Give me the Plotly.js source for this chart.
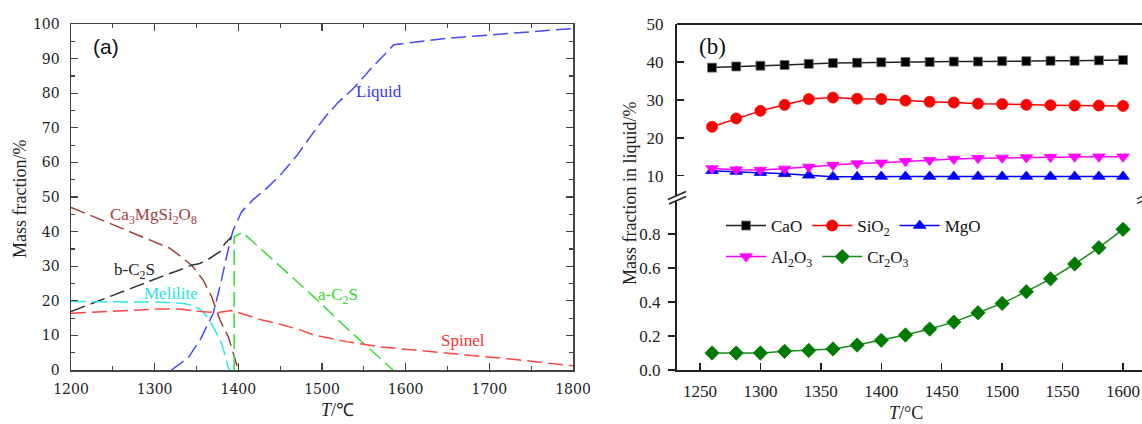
<!DOCTYPE html>
<html>
<head>
<meta charset="utf-8">
<script src="https://cdn.plot.ly/plotly-3.0.1.min.js"></script>
<style>
html,body{margin:0;padding:0;background:#fff;overflow:hidden;}
#chart{width:1142px;height:424px;}
</style>
</head>
<body>
<div id="chart"></div>
<script>
// ---------- Panel (a): phase mass fractions vs temperature ----------
const liquidT = [1320, 1340, 1355, 1370, 1378, 1384, 1390, 1394, 1404, 1418, 1436, 1450, 1470, 1489, 1505, 1520, 1536, 1560, 1586, 1650, 1720, 1800];
const liquidY = [0, 3.5, 9, 16.4, 24.1, 30.8, 37.1, 40.5, 45.8, 49.3, 53.0, 56.3, 62, 68.4, 73.5, 77.5, 81, 87.5, 94, 95.9, 97.3, 98.7];

const cmsT = [1200, 1235, 1265, 1294, 1318, 1334, 1344, 1358, 1368, 1378, 1388, 1394, 1400];
const cmsY = [47, 43.4, 40.5, 37.6, 35.2, 32.3, 30.3, 26, 21.2, 14.5, 9.6, 4.8, 0];

const bc2sT = [1200, 1235, 1282, 1318, 1330, 1344, 1354, 1366, 1378, 1384, 1392];
const bc2sY = [16.9, 20.2, 24.6, 27.9, 28.9, 30.3, 30.8, 32.3, 34.2, 36.6, 38.5];

const meliliteT = [1200, 1260, 1310, 1335, 1348, 1358, 1370, 1380, 1386, 1389];
const meliliteY = [19.8, 19.8, 19.6, 19.2, 18.5, 16.9, 12.5, 7.7, 2.9, 0];

const ac2sT = [1395, 1395, 1405, 1450, 1490, 1529, 1585];
const ac2sY = [0, 38.5, 39.8, 29.9, 21.2, 12.2, 0];

const spinelT = [1200, 1250, 1300, 1330, 1358, 1375, 1392, 1400, 1426, 1450, 1474, 1490, 1529, 1569, 1609, 1669, 1728, 1800];
const spinelY = [16.4, 17.0, 17.6, 17.6, 16.8, 16.6, 17.2, 16.6, 14.6, 13.2, 11.6, 10.1, 8.2, 6.7, 5.8, 4.6, 3.1, 1.2];

// ---------- Panel (b): liquid composition ----------
const tempB = [1260, 1280, 1300, 1320, 1340, 1360, 1380, 1400, 1420, 1440, 1460, 1480, 1500, 1520, 1540, 1560, 1580, 1600];
const caoY   = [38.5, 38.8, 39.0, 39.2, 39.5, 39.7, 39.8, 39.9, 40.0, 40.0, 40.1, 40.1, 40.2, 40.2, 40.3, 40.3, 40.4, 40.5];
const sio2Y  = [22.9, 25.1, 27.1, 28.7, 30.2, 30.6, 30.3, 30.2, 29.8, 29.5, 29.3, 29.0, 28.9, 28.7, 28.6, 28.5, 28.5, 28.4];
const mgoY   = [11.3, 11.1, 10.8, 10.5, 10.1, 9.7, 9.7, 9.8, 9.8, 9.8, 9.8, 9.8, 9.8, 9.8, 9.8, 9.8, 9.8, 9.8];
const al2o3Y = [11.9, 11.6, 11.5, 11.8, 12.3, 12.8, 13.2, 13.4, 13.8, 14.1, 14.4, 14.6, 14.7, 14.8, 14.9, 15.0, 15.0, 15.0];
const cr2o3Y = [0.10, 0.10, 0.10, 0.11, 0.115, 0.124, 0.147, 0.175, 0.206, 0.241, 0.282, 0.337, 0.392, 0.461, 0.537, 0.624, 0.720, 0.828];

const xTicksA = [1200, 1300, 1400, 1500, 1600, 1700, 1800];
const yTicksA = [0, 10, 20, 30, 40, 50, 60, 70, 80, 90, 100];
const xTicksB = [1250, 1300, 1350, 1400, 1450, 1500, 1550, 1600];
const yTicksBUpper = [10, 20, 30, 40, 50];
const yTicksBLower = [0, 0.2, 0.4, 0.6, 0.8];

const W = 1142, H = 424;
const px = v => v / W;
const py = v => (H - v) / H;

const DASH = '15px,6px';
const serif = 'Liberation Serif, Times New Roman, serif';

function phase(x, y, color) {
  return {x: x, y: y, type: 'scatter', mode: 'lines', xaxis: 'x', yaxis: 'y',
    line: {color: color, width: 1.5, dash: DASH}, showlegend: false, hoverinfo: 'skip'};
}
function comp(name, y, yaxis, color, lineColor, symbol, size, legend) {
  return {x: tempB, y: y, name: name, type: 'scatter', mode: 'lines+markers',
    xaxis: 'x2', yaxis: yaxis, legend: legend,
    line: {color: lineColor, width: 1.5},
    marker: {color: color, symbol: symbol, size: size, line: {color: color === '#000000' ? '#777' : color, width: 0.8}}};
}

const traces = [
  phase(liquidT, liquidY, '#4848FF'),
  phase(cmsT, cmsY, '#A0403C'),
  phase(bc2sT, bc2sY, '#333333'),
  phase(meliliteT, meliliteY, '#30E8E8'),
  phase(ac2sT, ac2sY, '#38DD38'),
  phase(spinelT, spinelY, '#FF4545'),
  comp('CaO', caoY, 'y3', '#000000', '#222222', 'square', 9, 'legend'),
  comp('SiO<sub>2</sub>', sio2Y, 'y3', '#FF0000', '#FF0000', 'circle', 11, 'legend'),
  comp('MgO', mgoY, 'y3', '#0000FF', '#0000FF', 'triangle-up', 11, 'legend'),
  comp('Al<sub>2</sub>O<sub>3</sub>', al2o3Y, 'y3', '#FF00FF', '#FF00FF', 'triangle-down', 11, 'legend2'),
  comp('Cr<sub>2</sub>O<sub>3</sub>', cr2o3Y, 'y4', '#007A00', '#1E8A1E', 'diamond', 11, 'legend2')
];

const axA = {
  showgrid: false, zeroline: false, showline: true, linecolor: '#444', linewidth: 1.5,
  mirror: 'allticks', ticks: 'inside', ticklen: 7, tickwidth: 1.2, tickcolor: '#444',
  tickfont: {family: 'DejaVu Serif', size: 14, color: '#222'}
};

function note(text, x, y, font, extra) {
  return Object.assign({text: text, xref: 'paper', yref: 'paper', x: px(x), y: py(y),
    xanchor: 'center', yanchor: 'middle', showarrow: false, font: font}, extra || {});
}
const f17 = c => ({family: serif, size: 17, color: c});

const layout = {
  width: W, height: H,
  margin: {l: 0, r: 0, t: 0, b: 0},
  paper_bgcolor: '#fff', plot_bgcolor: '#fff',
  showlegend: true,
  xaxis: Object.assign({}, axA, {
    domain: [px(71), px(573)], range: [1200, 1800], anchor: 'y',
    tickvals: xTicksA, ticklabelstandoff: 6,
    minor: {dtick: 50, ticks: 'inside', ticklen: 4, tickcolor: '#444'}
  }),
  yaxis: Object.assign({}, axA, {
    domain: [py(370), py(24)], range: [0, 100], anchor: 'x',
    tickvals: yTicksA, ticklabelstandoff: 7,
    minor: {dtick: 5, ticks: 'inside', ticklen: 4, tickcolor: '#444'}
  }),
  xaxis2: {
    domain: [px(677), 1], range: [1231, 1615.7], anchor: 'y4',
    showgrid: false, zeroline: false, showline: true, linecolor: '#222', linewidth: 2,
    ticks: 'inside', ticklen: 7, tickwidth: 1.5, tickcolor: '#222',
    tickvals: xTicksB, ticklabelstandoff: 5,
    tickfont: {family: serif, size: 17, color: '#222'}
  },
  yaxis3: {
    domain: [py(196), py(24)], range: [4.65, 50], anchor: 'x2',
    showgrid: false, zeroline: false, showline: true, linecolor: '#222', linewidth: 2,
    ticks: 'inside', ticklen: 7, tickwidth: 1.5, tickcolor: '#222',
    tickvals: yTicksBUpper, ticklabelstandoff: 8,
    tickfont: {family: serif, size: 17, color: '#222'}
  },
  yaxis4: {
    domain: [py(370), py(201)], range: [0, 0.995], anchor: 'x2',
    showgrid: false, zeroline: false, showline: true, linecolor: '#222', linewidth: 2,
    ticks: 'outside', ticklen: 7, tickwidth: 1.5, tickcolor: '#222',
    tickvals: yTicksBLower, tickformat: '.1f', ticklabelstandoff: 4,
    tickfont: {family: serif, size: 17, color: '#222'}
  },
  legend: {
    orientation: 'h', x: px(721), xanchor: 'left', y: py(226), yanchor: 'middle',
    bgcolor: 'rgba(0,0,0,0)', borderwidth: 0, itemwidth: 40,
    font: {family: serif, size: 17, color: '#111'}
  },
  legend2: {
    orientation: 'h', x: px(721), xanchor: 'left', y: py(257), yanchor: 'middle',
    bgcolor: 'rgba(0,0,0,0)', borderwidth: 0, itemwidth: 40,
    font: {family: serif, size: 17, color: '#111'}
  },
  shapes: [
    {type: 'line', xref: 'paper', yref: 'paper', x0: px(677), x1: 1, y0: py(24), y1: py(24), line: {color: '#222', width: 2}},
    {type: 'line', xref: 'paper', yref: 'paper', x0: px(668), y0: py(199.5), x1: px(686), y1: py(191.5), line: {color: '#222', width: 1.5}},
    {type: 'line', xref: 'paper', yref: 'paper', x0: px(669), y0: py(204), x1: px(686), y1: py(196.5), line: {color: '#222', width: 1.5}},
    {type: 'line', xref: 'paper', yref: 'paper', x0: px(1137), y0: py(199), x1: px(1142), y1: py(196.5), line: {color: '#222', width: 1.2}},
    {type: 'line', xref: 'paper', yref: 'paper', x0: px(1137), y0: py(203.5), x1: px(1142), y1: py(201), line: {color: '#222', width: 1.2}}
  ],
  annotations: [
    note('(a)', 106, 47, {family: 'Liberation Sans, Arial, sans-serif', size: 21, color: '#111'}),
    note('(b)', 712, 47, {family: serif, size: 23, color: '#111'}),
    note('Liquid', 379, 91, f17('#3434FF')),
    note('Ca<sub>3</sub>MgSi<sub>2</sub>O<sub>8</sub>', 153, 216, f17('#A0403C')),
    note('b-C<sub>2</sub>S', 134, 271, f17('#222')),
    note('Melilite', 171, 293, f17('#22E5E5')),
    note('a-C<sub>2</sub>S', 338, 296, f17('#30DD30')),
    note('Spinel', 463, 340, f17('#FF3030')),
    note('Mass fraction/%', 20, 199, {family: serif, size: 18, color: '#222'}, {textangle: -90}),
    note('<i>T</i>/℃', 337, 410, {family: serif, size: 18, color: '#222'}),
    note('Mass fraction in liquid/%', 630, 194, {family: serif, size: 18, color: '#222'}, {textangle: -90}),
    note('<i>T</i>/°C', 906, 413, {family: serif, size: 18, color: '#222'})
  ]
};

Plotly.newPlot('chart', traces, layout, {staticPlot: true, displayModeBar: false});
</script>
</body>
</html>
